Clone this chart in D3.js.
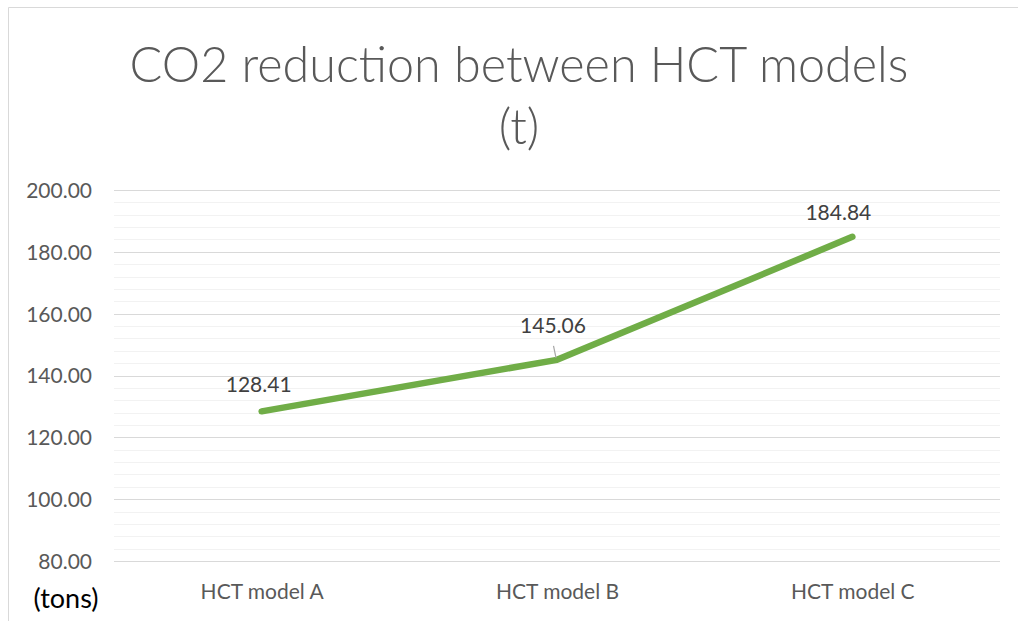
<!DOCTYPE html>
<html>
<head>
<meta charset="utf-8">
<script src="https://cdn.jsdelivr.net/npm/d3@7"></script>
<style>
  body { margin: 0; background: #fff; }
  svg { display: block; }
</style>
</head>
<body>
<script>
'use strict';

// chart data
const categories = ["HCT model A", "HCT model B", "HCT model C"];
const values = [128.41, 145.06, 184.84];
const yTicks = [80, 100, 120, 140, 160, 180, 200];
const titleLines = ["CO2 reduction between HCT models", "(t)"];
const unitLabel = "(tons)";

// label nudges (Excel labels were dragged by hand)
const labelShift = [[-3, -19], [-4, -27], [-14, -17]];

const W = 1018, H = 621;
const margin = {top: 190, right: 18, bottom: 60, left: 114};
const width = W - margin.left - margin.right;
const height = 561 - margin.top;

const svg = d3.select("body").append("svg")
  .attr("width", W)
  .attr("height", H);

// chart frame (only top and left visible in the crop)
svg.append("path")
  .attr("d", "M8.5,621 V7.5 H1018")
  .attr("fill", "none")
  .attr("stroke", "#d9d9d9")
  .attr("stroke-width", 1);

const g = svg.append("g")
  .attr("transform", "translate(" + margin.left + "," + margin.top + ")");

const x = d3.scalePoint()
  .domain(categories)
  .range([0, width])
  .padding(0.5);

const y = d3.scaleLinear()
  .domain([80, 200])
  .range([height, 0]);

// minor gridlines
const minor = d3.range(80, 200, 4).filter(v => v % 20 !== 0);
g.selectAll(".minor")
  .data(minor)
  .enter().append("line")
    .attr("x1", 0)
    .attr("x2", width)
    .attr("y1", d => Math.round(y(d)) + 0.5)
    .attr("y2", d => Math.round(y(d)) + 0.5)
    .attr("stroke", "#f2f2f2")
    .attr("stroke-width", 1);

// major gridlines
g.selectAll(".major")
  .data(yTicks)
  .enter().append("line")
    .attr("x1", 0)
    .attr("x2", width)
    .attr("y1", d => Math.round(y(d)) + 0.5)
    .attr("y2", d => Math.round(y(d)) + 0.5)
    .attr("stroke", "#d9d9d9")
    .attr("stroke-width", 1);

// y axis labels
const yAxis = g.append("g")
  .call(d3.axisLeft(y).tickValues(yTicks).tickFormat(d3.format(".2f")).tickSize(0).tickPadding(22));
yAxis.select(".domain").remove();
yAxis.selectAll("text")
  .attr("font-family", "Lato, sans-serif")
  .attr("font-size", "21px")
  .attr("fill", "#595959")
  .attr("dy", "0.35em");

// x axis labels
const xAxis = g.append("g")
  .attr("transform", "translate(0," + height + ")")
  .call(d3.axisBottom(x).tickSize(0).tickPadding(23));
xAxis.select(".domain").remove();
xAxis.selectAll("text")
  .attr("font-family", "Lato, sans-serif")
  .attr("font-size", "21px")
  .attr("fill", "#595959");

// the line
const line = d3.line()
  .x((d, i) => x(categories[i]))
  .y(d => y(d));

g.append("path")
  .datum(values)
  .attr("d", line)
  .attr("fill", "none")
  .attr("stroke", "#70ad47")
  .attr("stroke-width", 6.5)
  .attr("stroke-linecap", "round")
  .attr("stroke-linejoin", "round");

// leader line for the dragged B label
g.append("line")
  .attr("x1", x(categories[1]) - 3.5)
  .attr("y1", y(values[1]) - 14)
  .attr("x2", x(categories[1]) - 1)
  .attr("y2", y(values[1]) - 2)
  .attr("stroke", "#a6a6a6")
  .attr("stroke-width", 1.2);

// data labels
g.selectAll(".lbl")
  .data(values)
  .enter().append("text")
    .attr("x", (d, i) => x(categories[i]) + labelShift[i][0])
    .attr("y", (d, i) => y(d) + labelShift[i][1])
    .attr("text-anchor", "middle")
    .attr("font-family", "Lato, sans-serif")
    .attr("font-size", "21px")
    .attr("fill", "#404040")
    .text(d => d3.format(".2f")(d));

// title
svg.selectAll(".title")
  .data(titleLines)
  .enter().append("text")
    .attr("x", 519)
    .attr("y", (d, i) => 82 + i * 62)
    .attr("text-anchor", "middle")
    .attr("font-family", "Lato, sans-serif")
    .attr("font-size", "48.5px")
    .attr("font-weight", 300)
    .attr("fill", "#595959")
    .text(d => d);

// unit label
svg.append("text")
  .attr("x", 66)
  .attr("y", 608)
  .attr("text-anchor", "middle")
  .attr("font-family", "Lato, sans-serif")
  .attr("font-size", "27px")
  .attr("fill", "#000")
  .text(unitLabel);
</script>
</body>
</html>
